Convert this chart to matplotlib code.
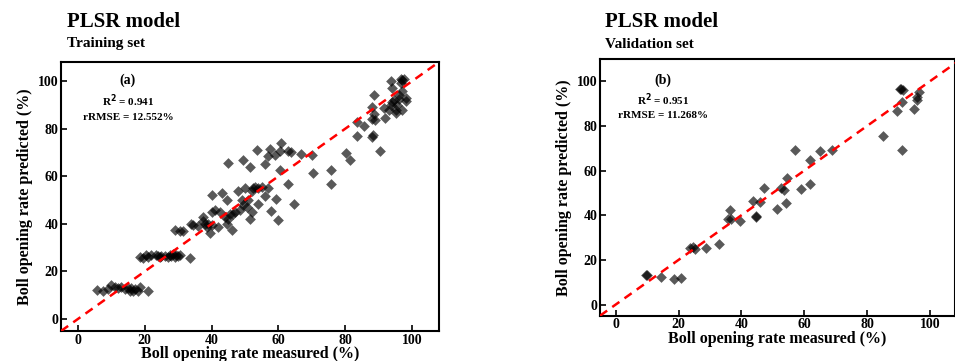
import numpy as np
import matplotlib
matplotlib.use("Agg")
import matplotlib.pyplot as plt

# Training set (measured, predicted)
train_measured = [5.8, 7.5, 9.0, 10.0, 11.0, 12.0, 13.0, 14.0, 15.0, 15.5, 16.0, 16.5, 17.0, 18.0, 18.5, 21.0,
                  18.5, 19.5, 20.5, 21.0, 22.0, 23.5, 24.0, 24.5, 25.0, 26.0, 27.0, 27.5, 28.0, 28.5, 29.0, 29.5,
                  30.0, 30.5, 33.5, 29.0, 30.5, 31.5,
                  34.0, 34.5, 36.0, 37.5, 37.5, 38.0, 38.5, 39.5, 39.0, 40.0, 40.0, 40.0, 41.0, 42.0, 42.5, 43.0,
                  44.0, 44.5, 44.5, 45.0, 45.5, 46.0, 46.5, 47.0, 48.0, 48.5, 49.0, 49.5, 50.0, 50.5, 51.0, 51.5,
                  52.0, 52.0, 52.5, 53.0, 54.0, 54.0, 55.0, 56.0, 57.0, 57.9, 59.3, 60.0,
                  44.9, 49.4, 51.5, 53.7, 56.0, 57.0, 57.5, 59.0, 60.7, 60.5, 60.5, 63.0, 64.5, 63.0, 63.8,
                  66.8, 70.1, 70.3, 75.6, 75.8, 80.3, 81.5, 83.6, 83.5, 85.5,
                  88.0, 88.0, 88.5, 88.7, 88.0, 88.2, 89.0, 90.4, 91.5, 92.0, 93.0, 93.5, 93.5, 94.0, 94.0,
                  94.5, 95.0, 95.0, 95.5, 96.0, 96.0, 96.5, 96.5, 97.0, 97.5, 97.0, 98.0, 97.0, 98.0]
train_predicted = [12.2, 12.0, 12.5, 14.5, 13.5, 13.0, 13.5, 12.5, 13.0, 12.0, 13.0, 12.0, 12.5, 12.0, 13.5, 11.8,
                   26.2, 25.5, 27.0, 26.0, 27.0, 27.0, 26.5, 26.0, 26.5, 26.5, 26.0, 27.0, 26.5, 27.5, 26.0, 27.0,
                   26.5, 27.0, 25.8, 37.5, 37.0, 37.0,
                   40.0, 39.5, 39.0, 41.0, 43.0, 40.0, 38.5, 36.0, 40.0, 39.5, 45.0, 52.0, 46.0, 38.5, 45.0, 53.0,
                   43.0, 40.0, 50.0, 42.0, 44.0, 37.5, 44.0, 45.0, 54.0, 46.0, 50.0, 48.0, 55.0, 47.0, 50.0, 42.0,
                   45.0, 54.0, 55.0, 55.5, 55.0, 48.5, 55.5, 51.5, 55.0, 45.6, 50.4, 41.8,
                   65.4, 66.8, 64.0, 71.0, 65.0, 68.5, 71.5, 69.0, 74.0, 70.5, 62.5, 56.7, 48.3, 70.5, 70.3,
                   69.5, 69.0, 61.5, 62.6, 56.7, 69.6, 66.8, 77.0, 83.0, 81.0,
                   89.0, 84.0, 86.0, 94.2, 76.5, 77.5, 83.5, 70.8, 88.5, 84.5, 88.0, 90.0, 100.0, 97.0, 91.0,
                   92.0, 86.5, 88.0, 90.0, 94.0, 92.5, 101.0, 99.0, 100.5, 101.0, 96.0, 91.5, 88.0, 93.0]

# Validation set
val_measured = [9.6, 9.8, 14.5, 18.7, 20.8, 23.7, 24.5, 25.1, 28.8, 32.8, 35.8, 36.3, 36.8, 39.5, 43.8,
                44.6, 44.8, 45.9, 47.2, 51.4, 52.5, 53.7, 54.2, 54.6, 57.2, 59.0, 61.7, 61.9, 65.1, 68.9,
                85.1, 89.6, 90.5, 90.7, 91.2, 91.0, 91.6, 94.8, 95.8, 96.0, 96.6]
val_predicted = [13.2, 13.4, 12.4, 11.5, 12.1, 25.2, 25.8, 25.0, 25.2, 27.2, 38.2, 42.2, 38.2, 37.5, 46.3,
                 39.6, 39.0, 46.0, 52.2, 43.0, 52.2, 51.2, 45.5, 56.9, 69.1, 51.6, 54.2, 64.9, 68.8, 69.1,
                 75.5, 86.7, 96.7, 96.5, 90.7, 69.4, 96.3, 87.8, 91.8, 93.0, 95.2]

plt.rcParams["font.family"] = ["Liberation Serif", "DejaVu Serif"]
plt.rcParams["font.weight"] = "bold"

fig = plt.figure(figsize=(9.55, 3.61), dpi=100)


def draw_panel(ax, x, y, letter, r2, rrmse, ylim_top, xpad):
    ax.scatter(x, y, marker="D", s=30, color="black", alpha=0.65, linewidths=0, zorder=2)
    ax.plot([-5, 120], [-5, 120], color="red", ls=(0, (3.5, 2.5)), lw=1.8, zorder=3)
    ax.set_xlim(-5, 108)
    ax.set_ylim(-5, ylim_top)
    ax.set_xticks([0, 20, 40, 60, 80, 100])
    ax.set_yticks([0, 20, 40, 60, 80, 100])
    ax.tick_params(direction="in", length=4, width=1.2, labelsize=10, top=False, right=False, pad=2)
    for lab in ax.get_xticklabels() + ax.get_yticklabels():
        lab.set_fontweight("bold")
    for sp in ax.spines.values():
        sp.set_linewidth(1.5)
    ax.set_xlabel("Boll opening rate measured (%)", fontsize=11.5, fontweight="bold", labelpad=xpad)
    ax.set_ylabel("Boll opening rate predicted (%)", fontsize=11.5, fontweight="bold", labelpad=3)
    ax.text(15, 100.5, letter, ha="center", va="center", fontsize=10, fontweight="bold")
    ax.text(15, 91.7, r"R$^\mathbf{2}$ = " + r2, ha="center", va="center", fontsize=8, fontweight="bold")
    ax.text(15, 84.5, "rRMSE = " + rrmse, ha="center", va="center", fontsize=8, fontweight="bold")


ax1 = fig.add_axes([0.0639, 0.0831, 0.3958, 0.7452])
draw_panel(ax1, train_measured, train_predicted, "(a)", "0.941", "12.552%", 108, -0.5)
fig.text(67 / 955, 1 - 22 / 361, "PLSR model", fontsize=15, fontweight="bold", va="center")
fig.text(67 / 955, 1 - 44 / 361, "Training set", fontsize=11, fontweight="bold", va="center")

ax2 = fig.add_axes([0.6283, 0.1255, 0.3717, 0.7111])
draw_panel(ax2, val_measured, val_predicted, "(b)", "0.951", "11.268%", 110, 0)
fig.text(605 / 955, 1 - 22 / 361, "PLSR model", fontsize=15, fontweight="bold", va="center")
fig.text(605 / 955, 1 - 44 / 361, "Validation set", fontsize=11, fontweight="bold", va="center")

fig.savefig("out.png", dpi=100)
